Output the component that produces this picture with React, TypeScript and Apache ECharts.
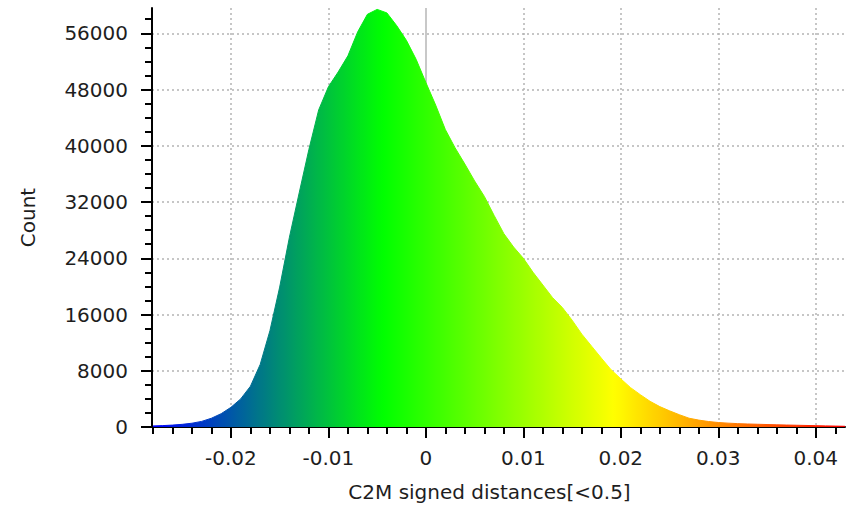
import React, { useEffect, useRef } from "react";
import * as echarts from "echarts";

// Histogram bins (signed distance, bin centre) and counts
const binValues = [
  -0.028, -0.027, -0.026, -0.025, -0.024, -0.023, -0.022, -0.021, -0.02, -0.019,
  -0.018, -0.017, -0.016, -0.015, -0.014, -0.013, -0.012, -0.011, -0.01, -0.009,
  -0.008, -0.007, -0.006, -0.005, -0.004, -0.003, -0.002, -0.001, 0, 0.001,
  0.002, 0.003, 0.004, 0.005, 0.006, 0.007, 0.008, 0.009, 0.01, 0.011,
  0.012, 0.013, 0.014, 0.015, 0.016, 0.017, 0.018, 0.019, 0.02, 0.021,
  0.022, 0.023, 0.024, 0.025, 0.026, 0.027, 0.028, 0.029, 0.03, 0.031,
  0.032, 0.033, 0.034, 0.035, 0.036, 0.037, 0.038, 0.039, 0.04, 0.041,
  0.042, 0.043,
];
const binCounts = [
  150, 200, 270, 380, 540, 800, 1250, 1900, 2800, 4000,
  5800, 8900, 13700, 19900, 27000, 33300, 39500, 45100, 48400, 50500,
  52800, 56200, 58700, 59400, 58900, 57100, 55000, 52300, 49000, 45800,
  42300, 39700, 37400, 35000, 32800, 30100, 27500, 25600, 24000, 22000,
  20200, 18400, 17000, 15200, 13200, 11500, 9800, 8150, 6850, 5600,
  4600, 3650, 2900, 2300, 1750, 1250, 980, 780, 640, 550,
  480, 430, 390, 350, 310, 280, 250, 220, 190, 160,
  130, 100,
];

// Axis tick labels
const xTickLabels = [-0.02, -0.01, 0, 0.01, 0.02, 0.03, 0.04];
const yTickLabels = [0, 8000, 16000, 24000, 32000, 40000, 48000, 56000];
const xMinorStep = 0.002;
const yMinorStep = 2000;

const xMin = -0.0281;
const xMax = 0.043;
const yMin = 0;
const yMax = 59600;

// Colour scale (Blue > Green > Yellow > Red)
const colourScale = ["#0000ff", "#00ff00", "#ffff00", "#ff0000"];

const xTitle = "C2M signed distances[<0.5]";
const yTitle = "Count";

function minorValues(lo: number, hi: number, step: number): number[] {
  const out: number[] = [];
  const start = Math.ceil(lo / step - 1e-9);
  const end = Math.floor(hi / step + 1e-9);
  for (let i = start; i <= end; i++) out.push(Number((i * step).toFixed(6)));
  return out;
}

const FONT = "DejaVu Sans";
const TEXT_COLOR = "#1e1e1e";

export default function App() {
  const ref = useRef<HTMLDivElement>(null);

  useEffect(() => {
    if (!ref.current) return;
    const chart = echarts.init(ref.current, undefined, { renderer: "svg" });

    const data = binValues.map((v, i) => [v, binCounts[i]]);
    const xMinor = minorValues(xMin, xMax, xMinorStep);
    const yMinor = minorValues(yMin, yMax, yMinorStep);

    const axisLine = { show: true, onZero: false, lineStyle: { color: "#000", width: 2 } };
    const splitLine = {
      show: true,
      lineStyle: { color: "#b4b4b4", width: 1.5, type: [2, 3] as any },
    };

    chart.setOption({
      animation: false,
      backgroundColor: "#ffffff",
      grid: { left: 152, right: 7, top: 8, bottom: 82, containLabel: false },
      xAxis: [
        {
          type: "value",
          min: xMin,
          max: xMax,
          position: "bottom",
          axisLine,
          axisTick: {
            show: true,
            length: 11,
            customValues: xTickLabels,
            lineStyle: { color: "#000", width: 2 },
          },
          axisLabel: {
            show: true,
            customValues: xTickLabels,
            margin: 21,
            fontFamily: FONT,
            fontSize: 20,
            color: TEXT_COLOR,
            formatter: (v: number) => String(Number(v.toFixed(4))),
          },
          splitLine,
          name: xTitle,
          nameLocation: "middle",
          nameGap: 55,
          nameTextStyle: {
            fontFamily: FONT,
            fontSize: 20,
            color: TEXT_COLOR,
            padding: [0, 18, 0, 0],
          },
        },
        {
          type: "value",
          min: xMin,
          max: xMax,
          position: "bottom",
          axisLine: { show: false, onZero: false },
          axisTick: {
            show: true,
            length: 7,
            customValues: xMinor,
            lineStyle: { color: "#000", width: 2 },
          },
          axisLabel: { show: false },
          splitLine: { show: false },
        },
      ],
      yAxis: [
        {
          type: "value",
          min: yMin,
          max: yMax,
          position: "left",
          axisLine,
          axisTick: {
            show: true,
            length: 11,
            customValues: yTickLabels,
            lineStyle: { color: "#000", width: 2 },
          },
          axisLabel: {
            show: true,
            customValues: yTickLabels,
            margin: 24,
            fontFamily: FONT,
            fontSize: 20,
            color: TEXT_COLOR,
            formatter: (v: number) => String(v),
          },
          splitLine,
          name: yTitle,
          nameLocation: "middle",
          nameGap: 114,
          nameRotate: 90,
          nameTextStyle: { fontFamily: FONT, fontSize: 20, color: TEXT_COLOR },
        },
        {
          type: "value",
          min: yMin,
          max: yMax,
          position: "left",
          axisLine: { show: false, onZero: false },
          axisTick: {
            show: true,
            length: 7,
            customValues: yMinor,
            lineStyle: { color: "#000", width: 2 },
          },
          axisLabel: { show: false },
          splitLine: { show: false },
        },
      ],
      visualMap: {
        type: "continuous",
        show: false,
        dimension: 0,
        seriesIndex: 1,
        min: xMin,
        max: xMax,
        inRange: { color: colourScale },
      },
      series: [
        {
          type: "line",
          data: [],
          z: 1,
          silent: true,
          markLine: {
            z: 1,
            silent: true,
            symbol: ["none", "none"],
            label: { show: false },
            lineStyle: { color: "#c8c8c8", width: 2, type: "solid" },
            data: [{ xAxis: 0 }],
          },
        },
        {
          type: "line",
          data,
          z: 3,
          showSymbol: false,
          symbol: "none",
          smooth: false,
          lineStyle: { width: 1 },
          areaStyle: { opacity: 1 },
          silent: true,
        },
      ],
    });

    return () => chart.dispose();
  }, []);

  return (
    <div
      ref={ref}
      style={{ position: "fixed", left: 0, top: 0, width: 852, height: 509 }}
    />
  );
}
